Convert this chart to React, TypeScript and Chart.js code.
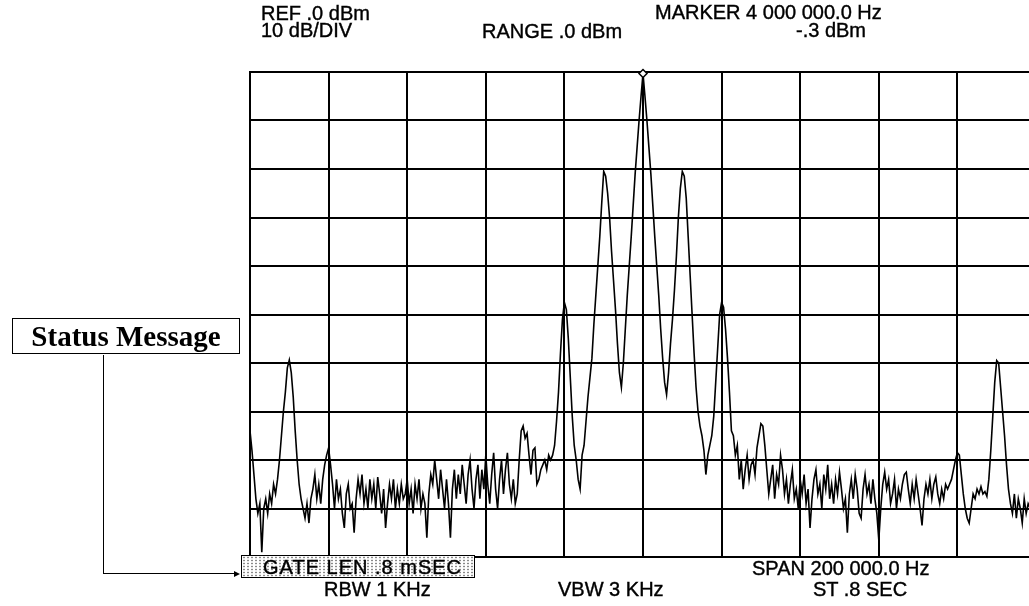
import React, { useEffect, useRef } from "react";
import { Chart, registerables } from "chart.js";

Chart.register(...registerables);

// Sweep settings (from the analyzer annotations)
const START_HZ = 3900000;
const STOP_HZ = 4100000;
const STEP_HZ = 500;
const MARKER_HZ = 4000000;
const REF_DBM = 0;
const DB_PER_DIV = 10;
const DIVS = 10;

// Trace levels in dBm, one per 500 Hz sweep bin (401 bins)
const traceDbm: number[] = [
  // 3.900 - 3.910 MHz
  -74, -78, -83, -88, -91, -89, -99, -90, -88, -91, -87, -89, -85, -87, -84, -80, -75, -70, -66, -61,
  // 3.910 - 3.920 MHz
  -59.4, -62, -67, -74, -80, -85, -88, -90, -92, -89, -93, -88, -86, -83, -88, -85, -89, -84, -81, -79,
  // 3.920 - 3.930 MHz
  -77.5, -81, -85, -90, -84, -88, -86, -91, -94, -87, -85, -90, -89, -95, -88, -84, -87, -83, -89, -86,
  // 3.930 - 3.940 MHz
  -90, -84, -88, -85, -90, -83.5, -87, -91, -86, -94, -89, -85, -88, -84, -90, -86, -89, -85, -88, -87,
  // 3.940 - 3.950 MHz
  -84, -89, -86, -91, -85, -88, -84, -90, -87, -89, -96, -87, -83, -85, -80, -84, -88, -82, -86, -90,
  // 3.950 - 3.960 MHz
  -84, -89, -96, -86, -82, -88, -83, -87, -81, -85, -89, -83, -80, -86, -90, -84, -81, -88, -82, -86,
  // 3.960 - 3.970 MHz
  -79, -85, -89, -83, -78.5, -86, -90, -84, -80, -87, -82, -78.5, -85, -88, -84, -89, -87, -80, -74, -73,
  // 3.970 - 3.980 MHz
  -75.5, -74.5, -79, -83, -78, -77.5, -85, -84, -82, -81, -80, -82, -79, -80, -79, -77, -72, -66, -58, -51,
  // 3.980 - 3.990 MHz
  -47.5, -49, -55, -63, -71, -77, -80, -84, -86, -79, -77, -72, -67, -63, -59, -52, -46, -40, -34, -27,
  // 3.990 - 4.000 MHz
  -20.5, -21.5, -25, -30, -37, -43, -49, -56, -62, -65, -60, -53, -46, -40, -34, -27.5, -21, -15.5, -10, -5,
  // 4.000 - 4.010 MHz
  -0.3, -5, -10, -15.5, -21, -27.5, -34, -40, -46, -53, -59, -64, -66.5, -62, -56, -51, -45, -38, -30, -24,
  // 4.010 - 4.020 MHz
  -20.5, -21.5, -26, -34, -42, -50, -58, -65, -70, -73, -75, -78, -83, -79, -77, -75, -71, -64, -57, -50,
  // 4.020 - 4.030 MHz
  -47.5, -48.5, -53, -59, -66, -74, -75, -79, -77, -84, -80, -86, -82, -79, -84, -81, -80, -83, -77.5, -75,
  // 4.030 - 4.040 MHz
  -72.5, -73, -77, -82, -87, -84, -81, -88, -83, -85, -79, -82, -87, -84, -89, -85, -82, -88, -86, -90,
  // 4.040 - 4.050 MHz
  -84, -87, -83, -89, -86, -94, -88, -84, -82, -87, -85, -90, -83, -86, -81, -88, -85, -89, -84, -87,
  // 4.050 - 4.060 MHz
  -82.5, -86, -90, -88, -95, -87, -84, -88, -83, -86, -91, -92, -86, -83, -87, -85, -89, -84, -88, -91,
  // 4.060 - 4.070 MHz
  -96.5, -90, -85, -82.5, -86, -84, -89, -87, -84, -90, -86, -88, -85, -83, -82.5, -86, -89, -85, -88, -84,
  // 4.070 - 4.080 MHz
  -87, -90, -93.5, -88, -85, -87, -84, -88, -85, -83.5, -87, -89, -86, -88, -85, -86, -85, -84, -82, -80,
  // 4.080 - 4.090 MHz
  -78.5, -79, -83, -87, -90, -92, -93, -90, -87, -88, -86, -87, -85.5, -87, -86.5, -87.5, -84, -78, -71, -64,
  // 4.090 - 4.100 MHz
  -59.5, -60, -65, -70, -75, -81, -86, -89, -91, -87, -92, -88, -90, -93, -88, -91, -89, -90, -92, -88,
  -90,
];

const headerLeft = ["REF .0 dBm", "10 dB/DIV"];
const headerRange = "RANGE .0 dBm";
const headerMarker = ["MARKER 4 000 000.0 Hz", "-.3 dBm"];
const footerGate = "GATE LEN .8 mSEC";
const footerRbw = "RBW 1 KHz";
const footerVbw = "VBW 3 KHz";
const footerSpan = ["SPAN 200 000.0 Hz", "ST .8 SEC"];
const statusText = "Status Message";

const SANS = "'Liberation Sans', Arial, Helvetica, sans-serif";
const SERIF = "'Liberation Serif', 'Times New Roman', serif";

function Label({ x, y, text, spacing }: { x: number; y: number; text: string; spacing?: number }) {
  return (
    <div
      style={{
        position: "absolute",
        left: x,
        top: y - 10,
        font: `20px ${SANS}`,
        lineHeight: "20px",
        color: "#000",
        whiteSpace: "nowrap",
        letterSpacing: spacing ? `${spacing}px` : undefined,
        WebkitTextStroke: "0.4px #000",
      }}
    >
      {text}
    </div>
  );
}

export default function App() {
  const canvasRef = useRef<HTMLCanvasElement | null>(null);

  useEffect(() => {
    const canvas = canvasRef.current;
    if (!canvas) return;
    const points = traceDbm.map((v, i) => ({ x: START_HZ + i * STEP_HZ, y: v }));
    const markerIdx = Math.round((MARKER_HZ - START_HZ) / STEP_HZ);
    const gridStyle = { color: "#000", lineWidth: 2, drawTicks: false };
    const chart = new Chart(canvas, {
      type: "line",
      data: {
        datasets: [
          {
            data: points,
            borderColor: "#000",
            borderWidth: 1.6,
            tension: 0,
            fill: false,
            clip: 8,
            pointStyle: "rectRot",
            pointRadius: (ctx: any) => (ctx.dataIndex === markerIdx ? 4 : 0),
            pointBackgroundColor: "#fff",
            pointBorderColor: "#000",
            pointBorderWidth: 1.5,
          } as any,
        ],
      },
      options: {
        responsive: false,
        animation: false,
        devicePixelRatio: 1,
        events: [],
        layout: { padding: { left: 250, top: 72, right: 24, bottom: 49 } },
        plugins: { legend: { display: false }, tooltip: { enabled: false } },
        scales: {
          x: {
            type: "linear",
            min: START_HZ,
            max: STOP_HZ,
            ticks: { display: false, stepSize: (STOP_HZ - START_HZ) / DIVS },
            grid: gridStyle,
            border: { color: "#000", width: 2 },
          },
          y: {
            type: "linear",
            min: REF_DBM - DB_PER_DIV * DIVS,
            max: REF_DBM,
            ticks: { display: false, stepSize: DB_PER_DIV },
            grid: gridStyle,
            border: { color: "#000", width: 2 },
          },
        },
      },
    });
    return () => chart.destroy();
  }, []);

  return (
    <div
      style={{
        position: "fixed",
        left: 0,
        top: 0,
        width: 1029,
        height: 606,
        overflow: "hidden",
        background: "#fff",
      }}
    >
      <canvas ref={canvasRef} width={1060} height={606} style={{ position: "absolute", left: 0, top: 0 }} />

      <Label x={261} y={13} text={headerLeft[0]} />
      <Label x={261} y={30} text={headerLeft[1]} />
      <Label x={482} y={31} text={headerRange} />
      <Label x={655} y={12} text={headerMarker[0]} />
      <Label x={796} y={30} text={headerMarker[1]} />

      {/* Status message box and connector */}
      <div
        style={{
          position: "absolute",
          left: 12,
          top: 318,
          width: 226,
          height: 34,
          border: "1.5px solid #000",
          font: `bold 29px ${SERIF}`,
          lineHeight: "34px",
          textAlign: "center",
          color: "#000",
          whiteSpace: "nowrap",
        }}
      >
        {statusText}
      </div>
      <div style={{ position: "absolute", left: 103, top: 355, width: 0, height: 219, borderLeft: "1.5px solid #000" }} />
      <div style={{ position: "absolute", left: 103, top: 573, width: 132, height: 0, borderTop: "1.5px solid #000" }} />
      <div
        style={{
          position: "absolute",
          left: 234,
          top: 570.5,
          width: 0,
          height: 0,
          borderTop: "3px solid transparent",
          borderBottom: "3px solid transparent",
          borderLeft: "6px solid #000",
        }}
      />

      {/* Gate length box */}
      <div
        style={{
          position: "absolute",
          left: 241,
          top: 555,
          width: 232,
          height: 21,
          border: "1.5px solid #000",
          backgroundColor: "#fff",
          backgroundImage: "radial-gradient(circle, #8a8a8a 0.7px, rgba(255,255,255,0) 1.2px)",
          backgroundSize: "4px 3px",
        }}
      />
      <Label x={263} y={567} text={footerGate} spacing={1} />
      <Label x={324} y={589} text={footerRbw} />
      <Label x={558} y={589} text={footerVbw} />
      <Label x={752} y={568} text={footerSpan[0]} />
      <Label x={813} y={589} text={footerSpan[1]} />
    </div>
  );
}
